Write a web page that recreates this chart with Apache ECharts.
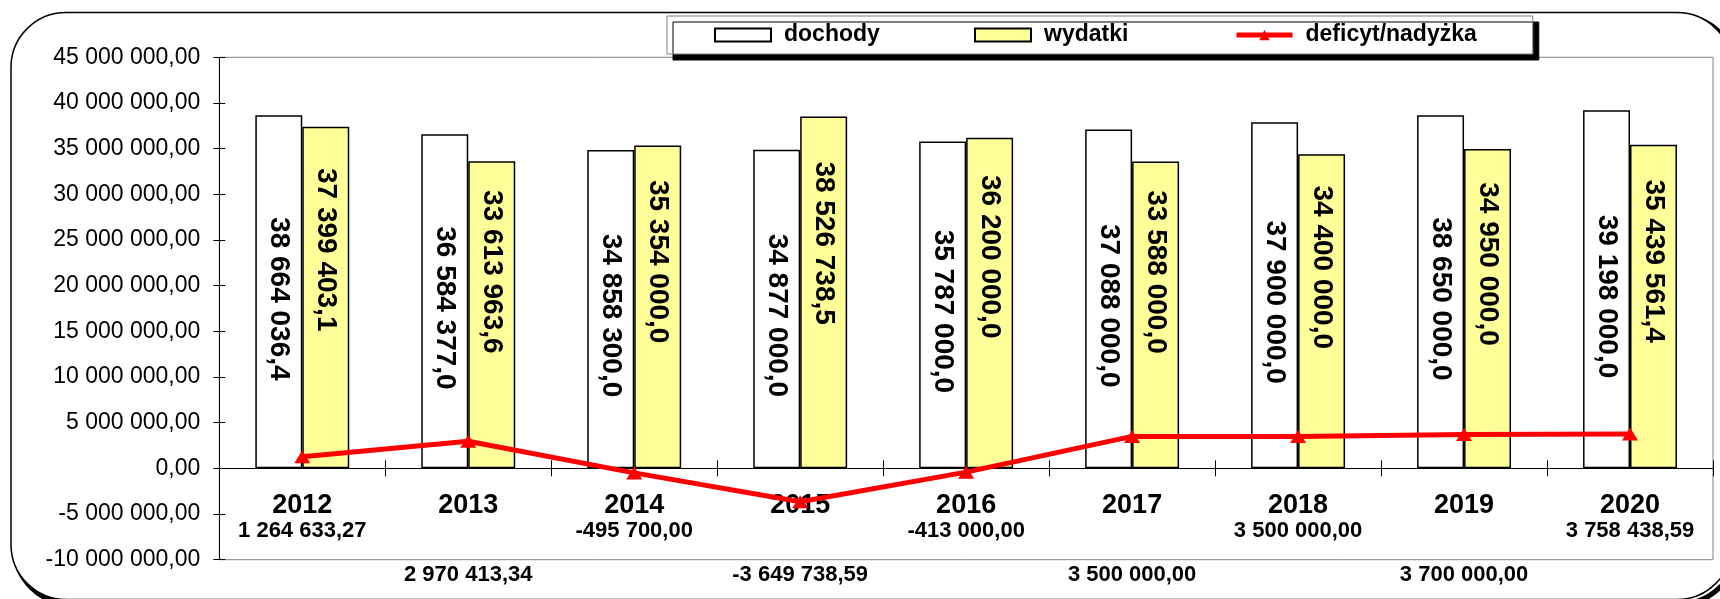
<!DOCTYPE html>
<html>
<head>
<meta charset="utf-8">
<script src="https://cdn.jsdelivr.net/npm/echarts@6/dist/echarts.min.js"></script>
<style>
html,body{margin:0;padding:0;background:#fff;}
#chart{width:1720px;height:599px;}
</style>
</head>
<body>
<div id="chart"></div>
<script>
const years = ['2012','2013','2014','2015','2016','2017','2018','2019','2020'];
const dochody = [38664036.4, 36584377.0, 34858300.0, 34877000.0, 35787000.0, 37088000.0, 37900000.0, 38650000.0, 39198000.0];
const wydatki = [37399403.1, 33613963.6, 35354000.0, 38526738.5, 36200000.0, 33588000.0, 34400000.0, 34950000.0, 35439561.4];
const deficyt = [1264633.27, 2970413.34, -495700.00, -3649738.59, -413000.00, 3500000.00, 3500000.00, 3700000.00, 3758438.59];
const seriesNames = ['dochody', 'wydatki', 'deficyt/nadyżka'];
const yMin = -10000000, yMax = 45000000, yStep = 5000000;

function fmt(v, d) {
  const s = Math.abs(v).toFixed(d);
  const parts = s.split('.');
  const i = parts[0].replace(/\B(?=(\d{3})+(?!\d))/g, ' ');
  return (v < 0 ? '-' : '') + i + (parts.length > 1 ? ',' + parts[1] : '');
}

const FF = '"Liberation Sans", Arial, sans-serif';
const chart = echarts.init(document.getElementById('chart'), null, {renderer: 'canvas'});

const barLabel = (pos) => ({
  show: true,
  rotate: -90,
  position: pos,
  align: 'center',
  verticalAlign: 'middle',
  fontFamily: FF,
  fontSize: 28,
  fontWeight: 'bold',
  color: '#000',
  formatter: p => fmt(p.value, 1)
});

chart.setOption({
  animation: false,
  backgroundColor: '#fff',
  textStyle: {fontFamily: FF},
  graphic: [
    {type: 'rect', z: -10, silent: true,
     shape: {x: 15, y: 16.5, width: 1721, height: 587, r: 55},
     style: {fill: 'none', stroke: '#000', lineWidth: 5}},
    {type: 'rect', z: -9, silent: true,
     shape: {x: 11, y: 12.5, width: 1721, height: 587, r: 55},
     style: {fill: '#fff', stroke: '#000', lineWidth: 1.5}}
  ],
  grid: {
    left: 219.3, right: 7, top: 57.3, bottom: 39.3,
    containLabel: false,
    outerBoundsMode: 'none',
    show: true, borderColor: '#808080', borderWidth: 1, backgroundColor: 'transparent'
  },
  legend: {
    left: 667, top: 16,
    padding: [7.5, 56, 7.5, 47],
    itemWidth: 56, itemHeight: 13, itemGap: 40,
    backgroundColor: '#fff',
    borderColor: '#808080', borderWidth: 1,
    shadowColor: '#000', shadowBlur: 0, shadowOffsetX: 6, shadowOffsetY: 6,
    textStyle: {fontFamily: FF, fontSize: 23, fontWeight: 'bold', color: '#000', width: 150, lineHeight: 22, padding: [0, 0, 0, 8]},
    data: [
      {name: seriesNames[0], icon: 'rect'},
      {name: seriesNames[1], icon: 'rect'},
      {name: seriesNames[2], lineStyle: {width: 5}}
    ]
  },
  xAxis: [{
    type: 'category',
    data: years,
    axisLine: {show: true, onZero: true, lineStyle: {color: '#000', width: 1}},
    axisTick: {show: true, length: 8, lineStyle: {color: '#000'}},
    axisLabel: {
      interval: 0,
      margin: -68,
      verticalAlign: 'top',
      formatter: (value, index) => {
        const v = fmt(deficyt[index], 2);
        return index % 2 === 0
          ? '{y|' + value + '}\n{v|' + v + '}'
          : '{y|' + value + '}\n{g| }\n{v|' + v + '}';
      },
      rich: {
        y: {fontFamily: FF, fontSize: 27, fontWeight: 'bold', color: '#000', lineHeight: 27},
        g: {fontSize: 10, lineHeight: 44},
        v: {fontFamily: FF, fontSize: 22, fontWeight: 'bold', color: '#000', lineHeight: 24}
      }
    },
    splitLine: {show: false}
  }, {
    type: 'category',
    data: years,
    position: 'bottom',
    axisLine: {show: false, onZero: true},
    axisTick: {show: true, inside: true, length: 8, lineStyle: {color: '#000'}},
    axisLabel: {show: false},
    splitLine: {show: false}
  }],
  yAxis: [{
    type: 'value',
    min: yMin, max: yMax, interval: yStep,
    axisLine: {show: true, lineStyle: {color: '#000', width: 1}},
    axisTick: {show: true, length: 6, lineStyle: {color: '#000'}},
    axisLabel: {
      margin: 19,
      fontFamily: FF, fontSize: 23, color: '#000',
      formatter: v => fmt(v, 2)
    },
    splitLine: {show: false}
  }, {
    type: 'value',
    position: 'left',
    min: yMin, max: yMax, interval: yStep,
    axisLine: {show: false},
    axisTick: {show: true, inside: true, length: 6, lineStyle: {color: '#000'}},
    axisLabel: {show: false},
    splitLine: {show: false}
  }],
  series: [
    {
      name: seriesNames[0], type: 'bar', data: dochody,
      barGap: '0%', barCategoryGap: '43.4%',
      itemStyle: {color: '#ffffff', borderColor: '#000', borderWidth: 1.5},
      label: barLabel(['50%', '52%'])
    },
    {
      name: seriesNames[1], type: 'bar', data: wydatki,
      barGap: '0%', barCategoryGap: '43.4%',
      itemStyle: {color: '#FFFF99', borderColor: '#000', borderWidth: 1.5},
      label: barLabel(['50%', '36%'])
    },
    {
      name: seriesNames[2], type: 'line', data: deficyt, z: 5,
      symbol: 'triangle', symbolSize: [16, 13],
      lineStyle: {color: '#FF0000', width: 5},
      itemStyle: {color: '#FF0000'},
      label: {show: false}
    }
  ]
});
</script>
</body>
</html>
